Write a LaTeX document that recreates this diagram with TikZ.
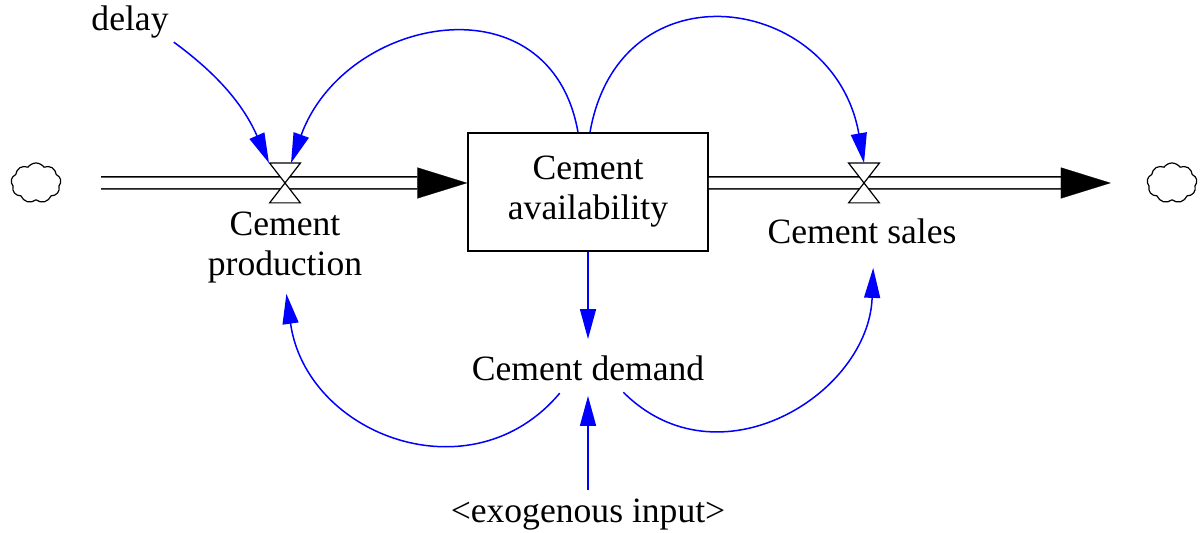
\documentclass[tikz,border=0pt]{standalone}
\usepackage{fontspec}
\setmainfont{Liberation Serif}
\usetikzlibrary{arrows.meta,shapes.symbols}

\begin{document}
\begin{tikzpicture}[x=0.5pt,y=0.5pt,
  every node/.style={font=\fontsize{17.8}{20}\selectfont, inner sep=0pt},
  link/.style={draw=blue, line width=0.75pt, -{Triangle[length=15pt,width=8pt]}},
  pipe/.style={draw=black, double=white, line width=0.75pt, double distance=5.25pt},
  flowtip/.style={draw=white, line width=0.1pt, -{Triangle[length=25pt,width=15.5pt,black]}},
  valve/.style={minimum width=15pt, minimum height=19.5pt},
  sink/.style={cloud, cloud puffs=9, cloud puff arc=110, aspect=1.3, draw, line width=0.6pt, minimum width=25pt, minimum height=20pt}]
\useasboundingbox (0,0) rectangle (1202,533);

\node[sink](cloudL) at (36,350) {};
\node[sink](cloudR) at (1172,350) {};
\node[draw, line width=0.75pt, minimum width=120pt, minimum height=59pt, align=center](stock) at (588,341) {Cement\\availability};
\node[valve](pv) at (285,350) {};
\node[valve](sv) at (864,350) {};
\node[align=center](prod) at (285,285) {Cement\\production};
\node(sales) at (862,302) {Cement sales};
\node(demand) at (588,165) {Cement demand};
\node(exo) at (588,18) {<exogenous input>};
\node(delay) at (130,511) {delay};

\draw[pipe, shorten <=20pt, shorten >=25pt] (cloudL) -- (stock.west |- pv);
\draw[flowtip] (pv) -- (stock.west |- pv);
\draw[pipe, shorten >=43pt] (stock.east |- sv) -- (cloudR);
\draw[flowtip, shorten >=18pt] (sv) -- (cloudR);

\foreach \v in {pv,sv}{
  \draw[fill=white, line width=0.6pt] (\v.north west) -- (\v.north east) -- (\v.center) -- cycle;
  \draw[fill=white, line width=0.6pt] (\v.south west) -- (\v.south east) -- (\v.center) -- cycle;
}

\draw[link, shorten <=3pt] (delay.south east) to[bend left=15] ([xshift=-8pt]pv.north);
\draw[link] ([xshift=-5pt]stock.north) to[out=100, in=70, looseness=1.4] ([xshift=3pt]pv.north);
\draw[link] ([xshift=1pt]stock.north) to[out=80, in=100, looseness=1.6] (sv.north);
\draw[link, shorten >=8pt] (stock.south) -- (demand.north);
\draw[link, shorten <=4.5pt, shorten >=7.5pt] (exo.north) -- (demand.south);
\draw[link, shorten <=8pt, shorten >=5pt] ([xshift=-9pt]demand.south) to[out=-130, in=-82, looseness=1.3] (prod.south);
\draw[link, shorten <=8pt, shorten >=12pt] ([xshift=12pt]demand.south) to[out=-45, in=-92, looseness=1.3] ([xshift=6pt]sales.south);
\end{tikzpicture}
\end{document}
